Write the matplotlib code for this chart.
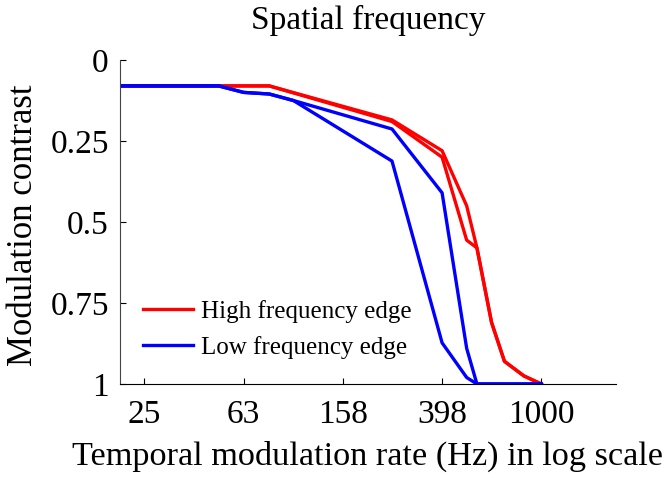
import numpy as np
import matplotlib.pyplot as plt

plt.rcParams['font.family'] = ['Liberation Serif', 'DejaVu Serif']

# frequency points (Hz) and modulation contrast for each edge curve
f_high1 = [20, 80, 250, 398, 500, 550, 630, 710, 850, 1000]
c_high1 = [0.08, 0.08, 0.185, 0.28, 0.45, 0.58, 0.81, 0.93, 0.975, 1.0]
f_high2 = [20, 80, 250, 398, 500, 550, 630, 710, 850, 1000]
c_high2 = [0.08, 0.08, 0.19, 0.30, 0.556, 0.58, 0.81, 0.93, 0.975, 1.0]

f_low1 = [20, 50, 63, 80, 100, 250, 398, 500, 550, 1000]
c_low1 = [0.08, 0.08, 0.10, 0.105, 0.125, 0.213, 0.41, 0.89, 1.0, 1.0]
f_low2 = [20, 50, 63, 80, 100, 250, 398, 500, 550, 1000]
c_low2 = [0.08, 0.08, 0.10, 0.105, 0.125, 0.312, 0.873, 0.98, 1.0, 1.0]

xticks = [25, 63, 158, 398, 1000]
yticks = [0, 0.25, 0.5, 0.75, 1]
ytick_labels = ['0', '0.25', '0.5', '0.75', '1']

fig = plt.figure(figsize=(6.71, 4.78), dpi=100)
ax = fig.add_axes([0.1788, 0.1967, 0.7392, 0.6778])

lw = 2.4
ax.plot(f_high1, c_high1, color='#ff0000', lw=lw, label='High frequency edge')
ax.plot(f_high2, c_high2, color='#ff0000', lw=lw)
ax.plot(f_low1, c_low1, color='#0000ff', lw=lw, label='Low frequency edge')
ax.plot(f_low2, c_low2, color='#0000ff', lw=lw)

ax.set_xscale('log')
ax.set_xlim(20, 2000)
ax.set_ylim(1, 0)
ax.set_xticks(xticks)
ax.set_xticklabels([str(t) for t in xticks])
ax.xaxis.set_minor_locator(plt.NullLocator())
ax.set_yticks(yticks)
ax.set_yticklabels(ytick_labels)
ax.tick_params(direction='in', length=4, labelsize=24)
ax.tick_params(axis='y', pad=8)
ax.tick_params(axis='x', pad=11)

ax.spines['top'].set_visible(False)
ax.spines['right'].set_visible(False)
ax.spines['left'].set_color('#444444')

ax.set_xlabel('Temporal modulation rate (Hz) in log scale', fontsize=24.7)
ax.xaxis.set_label_coords(0.5, -0.176)
ax.set_ylabel('Modulation contrast', fontsize=25)
ax.yaxis.set_label_coords(-0.162, 0.49)
fig.text(0.5485, 0.939, 'Spatial frequency', fontsize=24, ha='center', va='baseline')

ax.legend(loc='lower left', bbox_to_anchor=(0.002, 0.008), frameon=False,
          fontsize=18, handlelength=2.0, handletextpad=0.3, labelspacing=0.52)

fig.savefig('out.png', dpi=100)
